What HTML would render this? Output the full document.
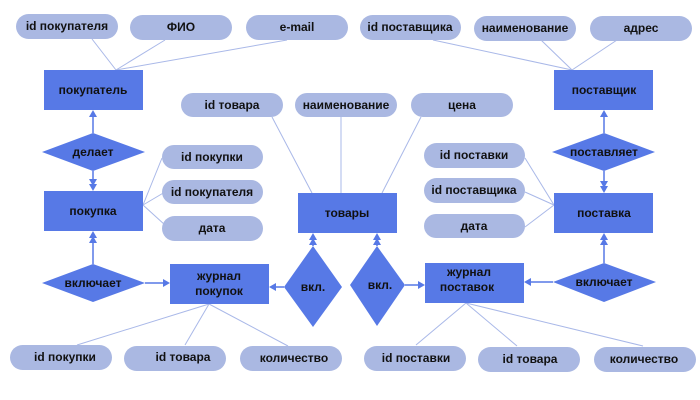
<!DOCTYPE html>
<html><head><meta charset="utf-8"><style>
html,body{margin:0;padding:0;background:#fff;}
svg{display:block;}
text{font-family:"Liberation Sans",sans-serif;font-weight:bold;font-size:12px;fill:#111;text-anchor:middle;dominant-baseline:central;}
.p{fill:#aab8e2;}
.r{fill:#5779e6;}
.l{stroke:#a9b8e8;stroke-width:1;fill:none;}
.a{stroke:#5779e6;stroke-width:1.5;fill:none;}
.h{fill:#5779e6;}
</style></head><body>
<svg width="700" height="400" viewBox="0 0 700 400" xmlns="http://www.w3.org/2000/svg">
<!-- attribute lines -->
<g class="l">
<line x1="116" y1="70" x2="92" y2="39"/><line x1="116" y1="70" x2="165" y2="40"/><line x1="116" y1="70" x2="287" y2="40"/>
<line x1="272" y1="117" x2="312" y2="193"/><line x1="341" y1="117" x2="341" y2="193"/><line x1="421" y1="117" x2="382" y2="193"/>
<line x1="143" y1="205" x2="162" y2="158"/><line x1="143" y1="205" x2="165" y2="192"/><line x1="143" y1="205" x2="165" y2="225"/>
<line x1="572" y1="70" x2="433" y2="40"/><line x1="572" y1="70" x2="541" y2="40"/><line x1="572" y1="70" x2="617" y2="40"/>
<line x1="554" y1="205" x2="525" y2="158"/><line x1="554" y1="205" x2="525" y2="192"/><line x1="554" y1="205" x2="525" y2="227"/>
<line x1="209" y1="304" x2="77" y2="345"/><line x1="209" y1="304" x2="185" y2="345"/><line x1="209" y1="304" x2="288" y2="346"/>
<line x1="466" y1="303" x2="416" y2="345"/><line x1="466" y1="303" x2="517" y2="346"/><line x1="466" y1="303" x2="643" y2="346"/>
</g>
<!-- connectors -->
<g class="a">
<line x1="93" y1="133" x2="93" y2="112"/><line x1="93" y1="171" x2="93" y2="189"/>
<line x1="93" y1="264" x2="93" y2="233"/><line x1="145" y1="283" x2="168" y2="283"/>
<line x1="284" y1="287" x2="271" y2="287"/><line x1="313" y1="246" x2="313" y2="235"/>
<line x1="377" y1="246" x2="377" y2="235"/><line x1="405" y1="285" x2="423" y2="285"/>
<line x1="553" y1="282" x2="526" y2="282"/><line x1="604" y1="263" x2="604" y2="235"/>
<line x1="604" y1="133" x2="604" y2="112"/><line x1="604" y1="171" x2="604" y2="191"/>
</g>
<g class="h">
<polygon points="93,110 89,117 97,117"/>
<polygon points="93,191 89,184 97,184"/><polygon points="93,186 89,179 97,179"/>
<polygon points="93,231 89,238 97,238"/><polygon points="93,236 89,243 97,243"/>
<polygon points="170,283 163,279 163,287"/>
<polygon points="269,287 276,283 276,291"/>
<polygon points="313,233 309,240 317,240"/><polygon points="313,238 309,245 317,245"/>
<polygon points="377,233 373,240 381,240"/><polygon points="377,238 373,245 381,245"/>
<polygon points="425,285 418,281 418,289"/>
<polygon points="524,282 531,278 531,286"/>
<polygon points="604,233 600,240 608,240"/><polygon points="604,238 600,245 608,245"/>
<polygon points="604,110 600,117 608,117"/>
<polygon points="604,193 600,186 608,186"/><polygon points="604,188 600,181 608,181"/>
</g>
<!-- pills -->
<g class="p">
<rect x="16" y="14" width="102" height="25" rx="12.5"/>
<rect x="130" y="15" width="102" height="25" rx="12.5"/>
<rect x="246" y="15" width="102" height="25" rx="12.5"/>
<rect x="360" y="15" width="101" height="25" rx="12.5"/>
<rect x="474" y="16" width="102" height="25" rx="12.5"/>
<rect x="590" y="16" width="102" height="25" rx="12.5"/>
<rect x="181" y="93" width="102" height="24" rx="12"/>
<rect x="295" y="93" width="102" height="24" rx="12"/>
<rect x="411" y="93" width="102" height="24" rx="12"/>
<rect x="162" y="145" width="101" height="24" rx="12"/>
<rect x="162" y="180" width="101" height="24" rx="12"/>
<rect x="162" y="216" width="101" height="25" rx="12.5"/>
<rect x="424" y="143" width="101" height="25" rx="12.5"/>
<rect x="424" y="178" width="101" height="25" rx="12.5"/>
<rect x="424" y="214" width="101" height="24" rx="12"/>
<rect x="10" y="345" width="102" height="25" rx="12.5"/>
<rect x="124" y="346" width="102" height="25" rx="12.5"/>
<rect x="240" y="346" width="102" height="25" rx="12.5"/>
<rect x="364" y="346" width="102" height="25" rx="12.5"/>
<rect x="478" y="347" width="102" height="25" rx="12.5"/>
<rect x="594" y="347" width="102" height="25" rx="12.5"/>
</g>
<!-- entities -->
<g class="r">
<rect x="44" y="70" width="99" height="40"/>
<rect x="554" y="70" width="99" height="40"/>
<rect x="44" y="191" width="99" height="40"/>
<rect x="298" y="193" width="99" height="40"/>
<rect x="554" y="193" width="99" height="40"/>
<rect x="170" y="264" width="99" height="40"/>
<rect x="425" y="263" width="99" height="40"/>
<polygon points="42,152 93,133 145,152 93,171"/>
<polygon points="552,152 604,133 655,152 604,171"/>
<polygon points="42,283 93,264 145,283 93,302"/>
<polygon points="553,282 604,263 656,282 604,302"/>
<polygon points="284,287 313,246 342,287 313,327"/>
<polygon points="350,285 377,246 405,285 377,326"/>
</g>
<!-- labels -->
<text x="67" y="26">id покупателя</text>
<text x="181" y="27">ФИО</text>
<text x="297" y="27">e-mail</text>
<text x="410" y="27">id поставщика</text>
<text x="525" y="28">наименование</text>
<text x="641" y="28">адрес</text>
<text x="232" y="105">id товара</text>
<text x="346" y="105">наименование</text>
<text x="462" y="105">цена</text>
<text x="93" y="90">покупатель</text>
<text x="604" y="90">поставщик</text>
<text x="93" y="152">делает</text>
<text x="604" y="152">поставляет</text>
<text x="212" y="157">id покупки</text>
<text x="212" y="192">id покупателя</text>
<text x="212" y="228">дата</text>
<text x="474" y="155">id поставки</text>
<text x="474" y="190">id поставщика</text>
<text x="474" y="226">дата</text>
<text x="93" y="211">покупка</text>
<text x="347" y="213">товары</text>
<text x="604" y="213">поставка</text>
<text x="93" y="283">включает</text>
<text x="604" y="282">включает</text>
<text x="219" y="276">журнал</text>
<text x="219" y="291">покупок</text>
<text x="469" y="272">журнал</text>
<text x="467" y="287">поставок</text>
<text x="313" y="287">вкл.</text>
<text x="380" y="285">вкл.</text>
<text x="65" y="357">id покупки</text>
<text x="183" y="357">id товара</text>
<text x="294" y="358">количество</text>
<text x="416" y="358">id поставки</text>
<text x="530" y="359">id товара</text>
<text x="644" y="359">количество</text>
</svg>
</body></html>
